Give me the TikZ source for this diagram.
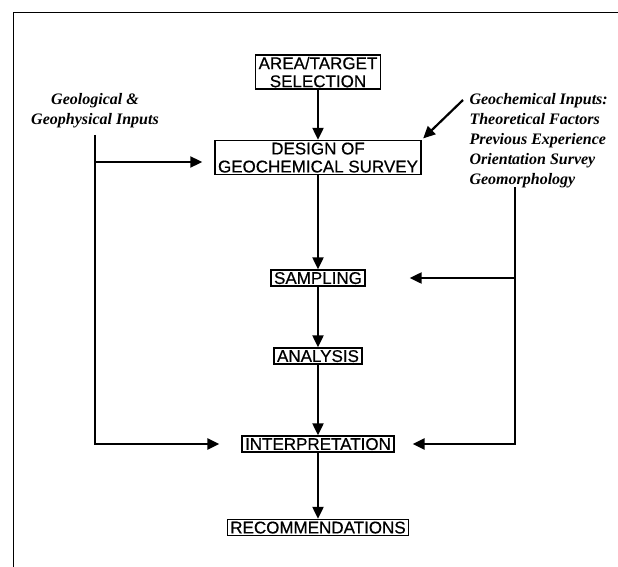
\documentclass[tikz,border=0pt]{standalone}
\usepackage{fontspec}
\setmainfont{Liberation Serif}
\setsansfont{Liberation Sans}
\newfontfamily\boxfont{Liberation Sans}[FakeBold=0.5]
\usepackage{tikz}
\usetikzlibrary{arrows.meta}
\newcommand{\stagebox}[3]{
\node[stage] (#1) at (318,#2) {#3};
}

\begin{document}
\begin{tikzpicture}[x=1pt,y=-1pt,
stage/.style={draw,line width=1.5pt,font=\boxfont\fontsize{17}{18}\selectfont,align=center,inner xsep=3pt,inner ysep=2pt,text depth=0pt},
flow/.style={line width=2.2pt,-{Triangle[length=12pt,width=11pt]}},
input/.style={font=\bfseries\itshape\fontsize{16}{20}\selectfont}]
\useasboundingbox (0,0) rectangle (618,567);
\draw[line width=1pt] (13,567) -- (13,13) -- (618,13);

\stagebox{area}{72}{AREA/TARGET\\SELECTION}
\stagebox{design}{157.5}{DESIGN OF\\GEOCHEMICAL SURVEY}
\stagebox{sampling}{278}{SAMPLING}
\stagebox{analysis}{356}{ANALYSIS}
\stagebox{interp}{444}{INTERPRETATION}
\stagebox{recom}{527.5}{RECOMMENDATIONS}

\node[input,align=center] (geo) at (95,111) {Geological \&\\Geophysical Inputs};
\node[input,align=left,anchor=west] (chem) at (466,141) {Geochemical Inputs:\\Theoretical Factors\\Previous Experience\\Orientation Survey\\Geomorphology};

\coordinate (ltop) at (95,135);
\coordinate (lmid) at (95,162);
\coordinate (rtop) at (515,187);
\coordinate (cin) at (463,100);

% main flow
\draw[flow] (area) -- (design);
\draw[flow] (design) -- (sampling);
\draw[flow] (sampling) -- (analysis);
\draw[flow] (analysis) -- (interp);
\draw[flow] (interp) -- (recom);

% inputs
\draw[flow,shorten >=22pt] (ltop) |- (interp.west);
\draw[flow,shorten >=12pt] (lmid) -- (lmid -| design.west);
\draw[flow,shorten >=18pt] (rtop) |- (interp.east);
\draw[flow,shorten >=44pt] (rtop |- sampling) -- (sampling.east);
\draw[flow,shorten >=2pt] (cin) -- (design.north east);

\end{tikzpicture}
\end{document}
